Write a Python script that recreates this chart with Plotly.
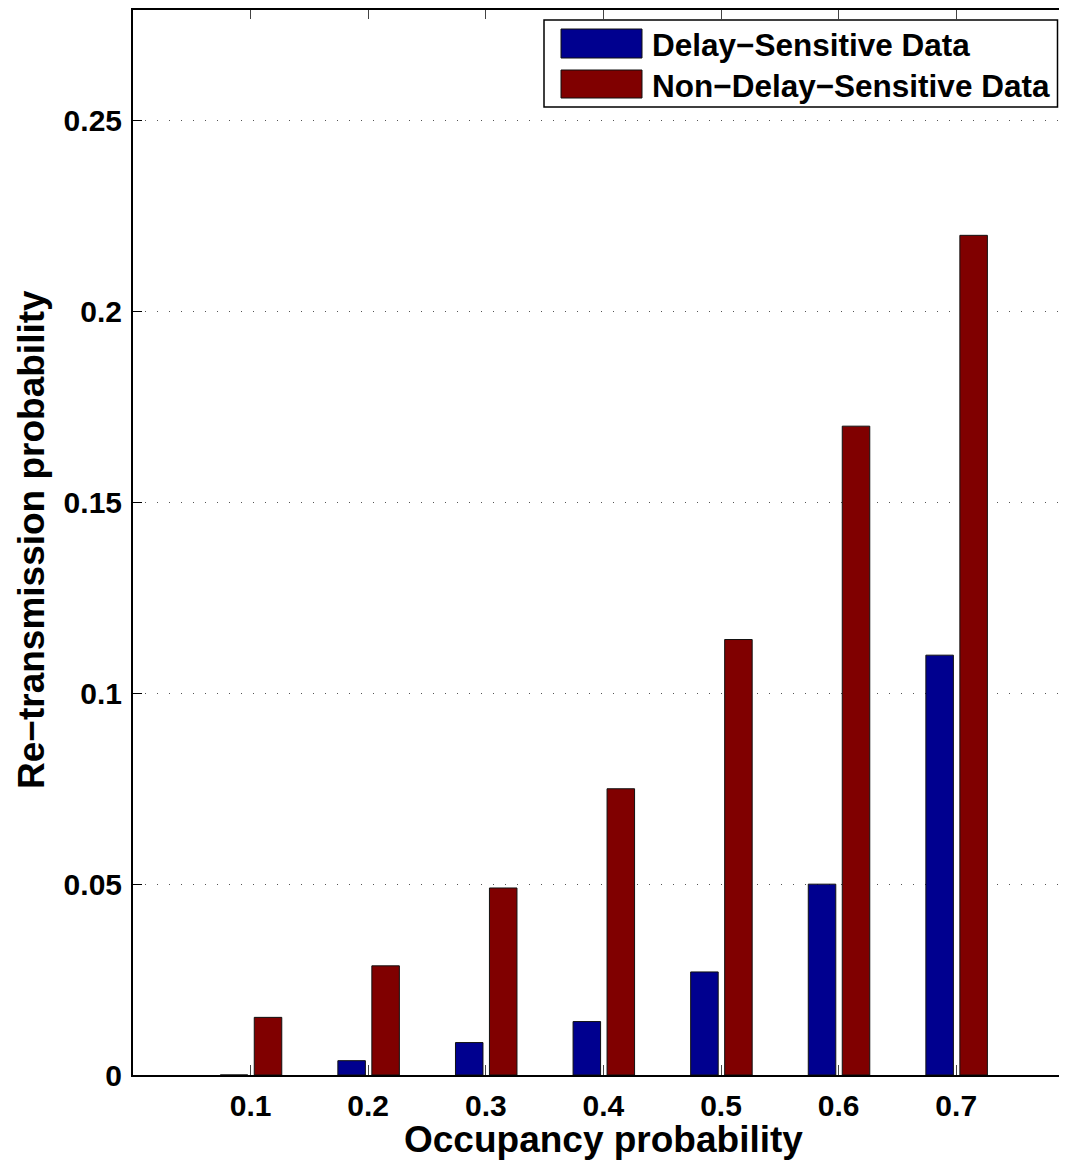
import plotly.graph_objects as go

# ---- data ----
occupancy = [0.1, 0.2, 0.3, 0.4, 0.5, 0.6, 0.7]
delay_sensitive = [0.0, 0.00375, 0.0085, 0.014, 0.027, 0.050, 0.110]
non_delay_sensitive = [0.0151, 0.0286, 0.049, 0.075, 0.1141, 0.170, 0.220]
series_names = ["Delay\u2212Sensitive Data", "Non\u2212Delay\u2212Sensitive Data"]
series_colors = ["#00008F", "#800000"]
x_ticks = [0.1, 0.2, 0.3, 0.4, 0.5, 0.6, 0.7]
x_tick_labels = ["0.1", "0.2", "0.3", "0.4", "0.5", "0.6", "0.7"]
y_ticks = [0, 0.05, 0.1, 0.15, 0.2, 0.25]
y_tick_labels = ["0", "0.05", "0.1", "0.15", "0.2", "0.25"]
x_title = "Occupancy probability"
y_title = "Re\u2212transmission probability"

FONT = "Liberation Sans, Arial, Helvetica, sans-serif"
OFF = 8  # browser body margin
W, H = 1067 - 2 * OFF, 1164 - OFF
ML, MT, MR = 133 - OFF, 1, 0
MB = H - MT - (1075 - OFF - MT)
PW, PH = W - ML - MR, H - MT - MB


def px_x(p):
    # page pixel -> paper coordinate
    return (p - OFF - ML) / PW


def px_y(p):
    return (H - MB - (p - OFF)) / PH


fig = go.Figure()
bar_w = 0.0234
offsets = [-0.0258, 0.0031]
for vals, name, col, off in zip([delay_sensitive, non_delay_sensitive],
                                series_names, series_colors, offsets):
    fig.add_trace(go.Bar(
        x=occupancy, y=vals, name=name, width=bar_w, offset=off,
        marker=dict(color=col, line=dict(color="#111111", width=1)),
        showlegend=False,
    ))

fig.update_layout(
    width=W, height=H,
    margin=dict(l=ML, r=MR, t=MT, b=MB, autoexpand=False),
    plot_bgcolor="white", paper_bgcolor="white",
    barmode="overlay",
    font=dict(family=FONT, size=30, color="black", weight="bold"),
    xaxis=dict(
        range=[0, 0.7874], tickmode="array", tickvals=x_ticks, ticktext=x_tick_labels,
        ticks="inside", ticklen=10, tickwidth=1, tickcolor="#444444",
        showline=True, linecolor="black", linewidth=2, mirror="ticks",
        showgrid=False, zeroline=False,
        tickfont=dict(family=FONT, size=30, color="black", weight="bold"),
        ticklabelstandoff=3,
    ),
    yaxis=dict(
        range=[0, 0.2793], tickmode="array", tickvals=y_ticks, ticktext=y_tick_labels,
        ticks="inside", ticklen=9, tickwidth=1, tickcolor="black",
        showline=True, linecolor="black", linewidth=2, mirror=False,
        showgrid=True, gridcolor="#555555", gridwidth=1, griddash="1px,11px",
        zeroline=False,
        tickfont=dict(family=FONT, size=30, color="black", weight="bold"),
        ticklabelstandoff=3,
    ),
)

# top frame line
fig.add_shape(type="line", xref="paper", yref="paper", x0=0, x1=1, y0=1, y1=1,
              line=dict(color="black", width=2), layer="above")

# axis titles
fig.add_annotation(text=x_title, xref="paper", yref="paper",
                   x=px_x(603), y=px_y(1139), xanchor="center", yanchor="middle",
                   showarrow=False, font=dict(family=FONT, size=37, color="black", weight="bold"))
fig.add_annotation(text=y_title, xref="paper", yref="paper",
                   x=px_x(31), y=px_y(540), xanchor="center", yanchor="middle",
                   textangle=-90, showarrow=False,
                   font=dict(family=FONT, size=37, color="black", weight="bold"))

# legend box (manual, to match wide swatches)
fig.add_shape(type="rect", xref="paper", yref="paper",
              x0=px_x(544), x1=px_x(1057.5), y0=px_y(107), y1=px_y(20),
              fillcolor="white", line=dict(color="black", width=1.5), layer="above")
swatch_rows = [(29, 58, 45), (70, 98, 86)]
for (top, bot, mid), name, col in zip(swatch_rows, series_names, series_colors):
    fig.add_shape(type="rect", xref="paper", yref="paper",
                  x0=px_x(561), x1=px_x(642), y0=px_y(bot), y1=px_y(top),
                  fillcolor=col, line=dict(color="#111111", width=1), layer="above")
    fig.add_annotation(text=name, xref="paper", yref="paper",
                       x=px_x(650), y=px_y(mid), xanchor="left", yanchor="middle",
                       showarrow=False,
                       font=dict(family=FONT, size=31.5, color="black", weight="bold"))

fig.write_html("out.html")
